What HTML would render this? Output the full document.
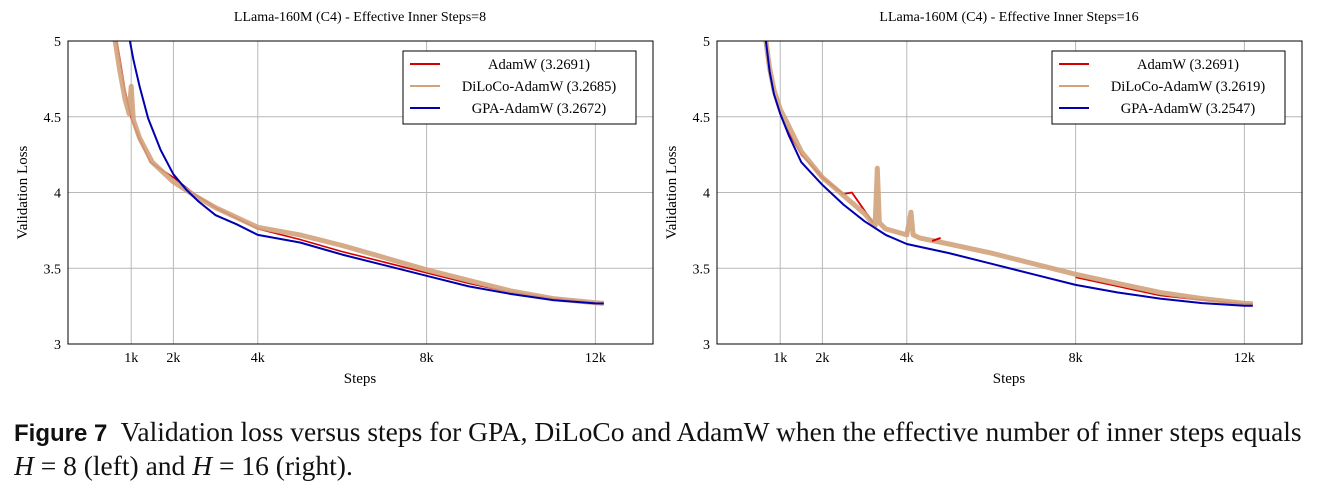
<!DOCTYPE html>
<html><head><meta charset="utf-8">
<style>
body{margin:0;background:#fff;width:1335px;height:487px;overflow:hidden;font-family:"Liberation Serif",serif;}
#cap{position:absolute;left:14px;top:416px;width:1310px;font-size:27.5px;line-height:32px;color:#111;white-space:nowrap;overflow:hidden;}
#cap b{font-family:"Liberation Sans",sans-serif;font-size:24px;}
</style></head><body>
<svg id="fig" width="1335" height="410" style="position:absolute;left:0;top:0"></svg>
<div id="cap"><b>Figure 7</b>&nbsp; Validation loss versus steps for GPA, DiLoCo and AdamW when the effective number of inner steps equals<br><i>H</i> = 8 (left) and <i>H</i> = 16 (right).</div>
<script>
const xTicks=[1,2,4,8,12];
const xTickLabels=["1k","2k","4k","8k","12k"];
const yTicks=[3,3.5,4,4.5,5];
const yTickLabels=["3","3.5","4","4.5","5"];
// left panel (H=8): steps in k, loss
const L_redX=[0.66,0.75,0.85,1.0,1.2,1.45,2.0,2.5,3.0,4.0,5,6,7,8,9,10,11,12,12.2];
const L_redY=[5.0,4.85,4.68,4.49,4.35,4.2,4.1,3.99,3.9,3.76,3.69,3.61,3.54,3.47,3.4,3.34,3.3,3.272,3.269];
const L_tanX=[0.62,0.72,0.85,0.95,1.0,1.05,1.2,1.5,2.0,2.5,3.0,4.0,5,6,7,8,9,10,11,12,12.2];
const L_tanY=[5.0,4.82,4.62,4.52,4.7,4.48,4.36,4.2,4.07,3.98,3.9,3.77,3.72,3.65,3.57,3.49,3.42,3.35,3.3,3.272,3.268];
const L_bluX=[0.97,1.05,1.1,1.2,1.4,1.7,2.0,2.3,2.6,3.0,3.5,4.0,5,6,7,8,9,10,11,12,12.2];
const L_bluY=[5.0,4.88,4.82,4.7,4.49,4.28,4.12,4.02,3.94,3.85,3.79,3.72,3.67,3.59,3.52,3.45,3.38,3.33,3.29,3.268,3.267];
// right panel (H=16)
const R_redX=[0.66,0.75,0.85,1.0,1.2,1.5,2.0,2.5,2.7,3.0,3.2];
const R_redY=[5.0,4.8,4.65,4.52,4.4,4.25,4.1,3.99,4.0,3.88,3.8];
const R_red2X=[4.6,4.8];
const R_red2Y=[3.68,3.7];
const R_red3X=[8,9,10,11,12,12.2];
const R_red3Y=[3.44,3.38,3.32,3.29,3.265,3.265];
const R_tanX=[0.66,0.75,0.85,1.0,1.2,1.5,2.0,2.5,3.0,3.25,3.3,3.35,3.5,4.0,4.1,4.15,4.3,5,6,7,8,9,10,11,12,12.2];
const R_tanY=[5.0,4.82,4.68,4.55,4.44,4.27,4.1,3.98,3.86,3.78,4.16,3.8,3.76,3.72,3.87,3.72,3.7,3.66,3.6,3.53,3.46,3.4,3.34,3.3,3.268,3.266];
const R_bluX=[0.66,0.75,0.85,1.0,1.2,1.5,2.0,2.5,3.0,3.5,4.0,5,6,7,8,9,10,11,12,12.2];
const R_bluY=[5.0,4.8,4.65,4.52,4.38,4.2,4.05,3.92,3.81,3.72,3.66,3.6,3.53,3.46,3.39,3.34,3.3,3.27,3.253,3.252];

const NS="http://www.w3.org/2000/svg";
const svg=document.getElementById('fig');
function el(tag,attrs,parent){const e=document.createElementNS(NS,tag);for(const k in attrs)e.setAttribute(k,attrs[k]);(parent||svg).appendChild(e);return e;}
function panel(x0,title,series,legendVals,tag){
  const x1=x0+585,yT=41,yB=344;
  const X=k=>x0+21+(k*42.2);
  const Y=v=>yB-(v-3)*(yB-yT)/2;
  const g=el('g',{});
  
  
  xTicks.forEach((t,i)=>{
    el('line',{x1:X(t),x2:X(t),y1:yT,y2:yB,stroke:'#b8b8b8','stroke-width':1},g);
    const tx=el('text',{x:X(t),y:yB+18,'font-size':14,'text-anchor':'middle'},g);tx.textContent=xTickLabels[i];
    
    
  });
  yTicks.forEach((t,i)=>{
    el('line',{x1:x0,x2:x1,y1:Y(t),y2:Y(t),stroke:'#b8b8b8','stroke-width':1},g);
    const ty=el('text',{x:x0-7,y:Y(t)+5,'font-size':14,'text-anchor':'end'},g);ty.textContent=yTickLabels[i];
    
    
  });
  const cid='clip'+tag;
  const cp=el('clipPath',{id:cid},g);el('rect',{x:x0,y:yT,width:585,height:yB-yT},cp);
  series.forEach(s=>{
    const d=s.x.map((k,i)=>(i?'L':'M')+X(k).toFixed(1)+' '+Y(s.y[i]).toFixed(1)).join(' ');
    const p=el('path',{d:d,fill:'none',stroke:s.c,'stroke-width':s.w,opacity:s.o||1,'clip-path':'url(#'+cid+')','stroke-linejoin':'round'},g);
    
    
  });
  el('rect',{x:x0,y:yT,width:585,height:yB-yT,fill:'none',stroke:'#000','stroke-width':1},g);
  const t=el('text',{x:x0+292,y:21,'font-size':14,'text-anchor':'middle'},g);t.textContent=title;
  
  
  const xl=el('text',{x:x0+292,y:383,'font-size':15,'text-anchor':'middle'},g);xl.textContent='Steps';
  
  
  const yl=el('text',{x:0,y:0,'font-size':15,'text-anchor':'middle',transform:`translate(${x0-41},${(yT+yB)/2}) rotate(-90)`},g);yl.textContent='Validation Loss';
  
  
  const lx=x0+335;
  const lg=el('g',{},g);
  
  
  el('rect',{x:lx,y:51,width:233,height:73,fill:'#fff',stroke:'#000','stroke-width':1},lg);
  const cols=['#d40000','#d2a27b','#0000b0'];
  const names=['AdamW','DiLoCo-AdamW','GPA-AdamW'];
  names.forEach((n,i)=>{
    const yy=64+i*22;
    el('line',{x1:lx+7,x2:lx+37,y1:yy,y2:yy,stroke:cols[i],'stroke-width':2},lg);
    const tt=el('text',{x:lx+136,y:yy+5,'font-size':14.5,'text-anchor':'middle'},lg);tt.textContent=n+' ('+legendVals[i]+')';
    
    
  });
}
panel(68,'LLama-160M (C4) - Effective Inner Steps=8',[
  {x:L_redX,y:L_redY,c:'#d40000',w:1.6,n:'adamw-line'},
  {x:L_tanX,y:L_tanY,c:'#d2a27b',w:5,o:0.9,n:'diloco-line'},
  {x:L_bluX,y:L_bluY,c:'#0000b0',w:2,n:'gpa-line'}
],['3.2691','3.2685','3.2672'],'left');
panel(717,'LLama-160M (C4) - Effective Inner Steps=16',[
  {x:R_redX,y:R_redY,c:'#d40000',w:1.8,n:'adamw-line'},
  {x:R_red3X,y:R_red3Y,c:'#d40000',w:1.6,n:'adamw-line-tail'},
  {x:R_tanX,y:R_tanY,c:'#d2a27b',w:5,o:0.9,n:'diloco-line'},
  {x:R_red2X,y:R_red2Y,c:'#d40000',w:2,n:'adamw-line-segment'},
  {x:R_bluX,y:R_bluY,c:'#0000b0',w:2,n:'gpa-line'}
],['3.2691','3.2619','3.2547'],'right');
</script>
</body></html>
